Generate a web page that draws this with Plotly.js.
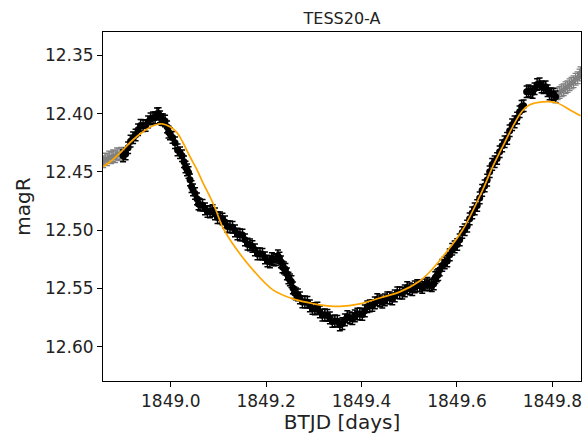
<!DOCTYPE html>
<html>
<head>
<meta charset="utf-8">
<script src="https://cdn.plot.ly/plotly-3.0.1.min.js"></script>
<style>html,body{margin:0;padding:0;background:#fff;}#chart{width:587px;height:434px;}</style>
</head>
<body>
<div id="chart"></div>
<script>
// Observed (in-window) photometry, BTJD days
const btjdIn = [
1848.9001,1848.9054,1848.9106,1848.9158,1848.9211,1848.9263,1848.9315,1848.9368,1848.9420,1848.9473,
1848.9525,1848.9577,1848.9629,1848.9671,1848.9713,1848.9745,1848.9776,1848.9808,1848.9839,1848.9881,
1848.9923,1848.9954,1848.9985,1849.0038,1849.0090,1849.0143,1849.0195,1849.0237,1849.0278,1849.0310,
1849.0341,1849.0373,1849.0404,1849.0436,1849.0467,1849.0509,1849.0551,1849.0582,1849.0613,1849.0666,
1849.0718,1849.0771,1849.0823,1849.0876,1849.0928,1849.0981,1849.1033,1849.1085,1849.1137,1849.1190,
1849.1242,1849.1295,1849.1347,1849.1399,1849.1451,1849.1504,1849.1556,1849.1609,1849.1661,1849.1713,
1849.1765,1849.1818,1849.1870,1849.1923,1849.1975,1849.2027,1849.2079,1849.2121,1849.2163,1849.2205,
1849.2247,1849.2279,1849.2310,1849.2342,1849.2373,1849.2404,1849.2435,1849.2467,1849.2498,1849.2530,
1849.2561,1849.2593,1849.2624,1849.2666,1849.2708,1849.2760,1849.2812,1849.2865,1849.2917,1849.2970,
1849.3022,1849.3074,1849.3126,1849.3179,1849.3231,1849.3284,1849.3336,1849.3388,1849.3440,1849.3493,
1849.3545,1849.3598,1849.3650,1849.3702,1849.3754,1849.3807,1849.3859,1849.3912,1849.3964,1849.4016,
1849.4068,1849.4121,1849.4173,1849.4226,1849.4278,1849.4330,1849.4382,1849.4435,1849.4487,1849.4540,
1849.4592,1849.4644,1849.4696,1849.4749,1849.4801,1849.4854,1849.4906,1849.4958,1849.5010,1849.5063,
1849.5115,1849.5168,1849.5220,1849.5272,1849.5324,1849.5377,1849.5429,1849.5471,1849.5513,1849.5545,
1849.5576,1849.5607,1849.5638,1849.5691,1849.5743,1849.5796,1849.5848,1849.5900,1849.5952,1849.6005,
1849.6057,1849.6110,1849.6162,1849.6214,1849.6266,1849.6319,1849.6371,1849.6424,1849.6476,1849.6528,
1849.6580,1849.6633,1849.6685,1849.6738,1849.6790,1849.6842,1849.6894,1849.6947,1849.6999,1849.7052,
1849.7104,1849.7156,1849.7208,1849.7261,1849.7313,1849.7355,1849.7397,1849.7460,1849.7502,1849.7543,
1849.7585,1849.7627,1849.7680,1849.7732,1849.7774,1849.7816,1849.7858,1849.7900,1849.7942,1849.7983,
1849.8025,1849.8067
];
const magIn = [
12.4362,12.4346,12.4293,12.4236,12.4207,12.4183,12.4138,12.4101,12.4104,12.4102,
12.4070,12.4045,12.4035,12.4036,12.4001,12.4000,12.4027,12.4050,12.4052,12.4063,
12.4113,12.4158,12.4173,12.4204,12.4250,12.4311,12.4336,12.4361,12.4413,12.4458,
12.4482,12.4505,12.4568,12.4626,12.4654,12.4685,12.4731,12.4775,12.4783,12.4786,
12.4817,12.4840,12.4843,12.4832,12.4860,12.4892,12.4894,12.4904,12.4929,12.4969,
12.4972,12.4975,12.5006,12.5033,12.5040,12.5042,12.5083,12.5120,12.5126,12.5140,
12.5169,12.5204,12.5203,12.5207,12.5238,12.5265,12.5272,12.5244,12.5255,12.5253,
12.5221,12.5239,12.5272,12.5316,12.5324,12.5336,12.5375,12.5411,12.5427,12.5442,
12.5496,12.5537,12.5547,12.5556,12.5581,12.5617,12.5616,12.5619,12.5650,12.5673,
12.5676,12.5669,12.5702,12.5730,12.5727,12.5732,12.5753,12.5784,12.5779,12.5782,
12.5813,12.5802,12.5770,12.5742,12.5753,12.5760,12.5736,12.5720,12.5719,12.5724,
12.5693,12.5658,12.5650,12.5647,12.5624,12.5596,12.5607,12.5618,12.5599,12.5582,
12.5581,12.5591,12.5564,12.5537,12.5538,12.5540,12.5521,12.5493,12.5504,12.5511,
12.5487,12.5475,12.5478,12.5492,12.5470,12.5456,12.5470,12.5476,12.5461,12.5407,
12.5393,12.5382,12.5341,12.5303,12.5281,12.5265,12.5212,12.5164,12.5143,12.5123,
12.5083,12.5020,12.4997,12.4965,12.4903,12.4852,12.4817,12.4788,12.4723,12.4658,
12.4620,12.4570,12.4499,12.4436,12.4413,12.4385,12.4327,12.4276,12.4241,12.4212,
12.4147,12.4095,12.4070,12.4037,12.3984,12.3938,12.3932,12.3812,12.3804,12.3812,
12.3817,12.3786,12.3750,12.3743,12.3770,12.3777,12.3770,12.3803,12.3831,12.3829,
12.3834,12.3855
];
// Out-of-window photometry (grey)
const btjdOut = [
1848.8583,1848.8625,1848.8666,1848.8708,1848.8750,1848.8792,1848.8834,1848.8876,1848.8918,1848.8960,
1849.8109,1849.8151,1849.8193,1849.8235,1849.8277,1849.8318,1849.8360,1849.8402,1849.8444,1849.8486,
1849.8528,1849.8570,1849.8591
];
const magOut = [
12.4413,12.4390,12.4396,12.4372,12.4379,12.4362,12.4370,12.4345,12.4353,12.4340,
12.3829,12.3818,12.3803,12.3795,12.3777,12.3768,12.3752,12.3738,12.3726,12.3705,
12.3692,12.3668,12.3649
];
const magErr = 0.005;
// Model curve
const btjdModel = [
1848.8583,1848.8729,1848.8938,1848.9211,1848.9420,1848.9629,1848.9818,1848.9985,1849.0132,1849.0258,
1849.0404,1849.0551,1849.0676,1849.0823,1849.0928,1849.1095,1849.1388,1849.1723,1849.2142,1849.2561,
1849.2917,1849.3126,1849.3545,1849.3964,1849.4382,1849.4801,1849.5220,1849.5429,1849.5701,1849.6120,
1849.6539,1849.6748,1849.6958,1849.7167,1849.7356,1849.7523,1849.7795,1849.8088,1849.8361,1849.8591
];
const magModel = [
12.4456,12.4413,12.4336,12.4224,12.4155,12.4104,12.4087,12.4113,12.4164,12.4250,
12.4370,12.4482,12.4594,12.4714,12.4808,12.4980,12.5169,12.5341,12.5513,12.5590,
12.5625,12.5642,12.5655,12.5633,12.5582,12.5530,12.5436,12.5359,12.5229,12.4997,
12.4654,12.4456,12.4284,12.4113,12.3984,12.3924,12.3898,12.3906,12.3966,12.4018
];
const xTicks = [1849.0, 1849.2, 1849.4, 1849.6, 1849.8];
const yTicks = [12.35, 12.40, 12.45, 12.50, 12.55, 12.60];

const traces = [
  {x: btjdOut, y: magOut, type: 'scatter', mode: 'markers',
   marker: {color: '#808080', size: 5},
   error_y: {type: 'constant', value: magErr, color: '#808080', thickness: 1.3, width: 3},
   hoverinfo: 'skip'},
  {x: btjdIn, y: magIn, type: 'scatter', mode: 'markers',
   marker: {color: '#000000', size: 7},
   error_y: {type: 'constant', value: magErr, color: '#000000', thickness: 1.5, width: 3},
   hoverinfo: 'skip'},
  {x: btjdModel, y: magModel, type: 'scatter', mode: 'lines',
   line: {color: '#ffa500', width: 1.7, shape: 'spline', smoothing: 1},
   hoverinfo: 'skip'}
];

const layout = {
  width: 587, height: 434,
  margin: {l: 103, r: 6, t: 32, b: 53},
  paper_bgcolor: '#ffffff', plot_bgcolor: '#ffffff',
  showlegend: false,
  font: {family: 'DejaVu Sans, sans-serif', color: '#000000', size: 17},
  title: {text: 'TESS20-A', font: {family: 'DejaVu Sans', size: 16, color: '#222222'},
          x: 0.5, xref: 'paper', xanchor: 'center', y: 0.958, yref: 'container', yanchor: 'middle'},
  xaxis: {
    range: [1848.858, 1849.860],
    tickvals: xTicks, ticktext: xTicks.map(v => v.toFixed(1)),
    ticks: 'outside', ticklen: 5, tickwidth: 1, tickcolor: '#000',
    showline: true, linecolor: '#000', linewidth: 1, mirror: true,
    showgrid: false, zeroline: false,
    tickfont: {size: 17, color: '#222'},
    title: {text: 'BTJD [days]', font: {size: 20, color: '#222'}, standoff: 6}
  },
  yaxis: {
    range: [12.6295, 12.3299],
    tickvals: yTicks, ticktext: yTicks.map(v => v.toFixed(2)),
    ticks: 'outside', ticklen: 5, tickwidth: 1, tickcolor: '#000',
    showline: true, linecolor: '#000', linewidth: 1, mirror: true,
    showgrid: false, zeroline: false,
    tickfont: {size: 17, color: '#222'},
    title: {text: 'magR', font: {size: 20, color: '#222'}, standoff: 8}
  }
};

Plotly.newPlot('chart', traces, layout, {displayModeBar: false, staticPlot: true});
</script>
</body>
</html>
